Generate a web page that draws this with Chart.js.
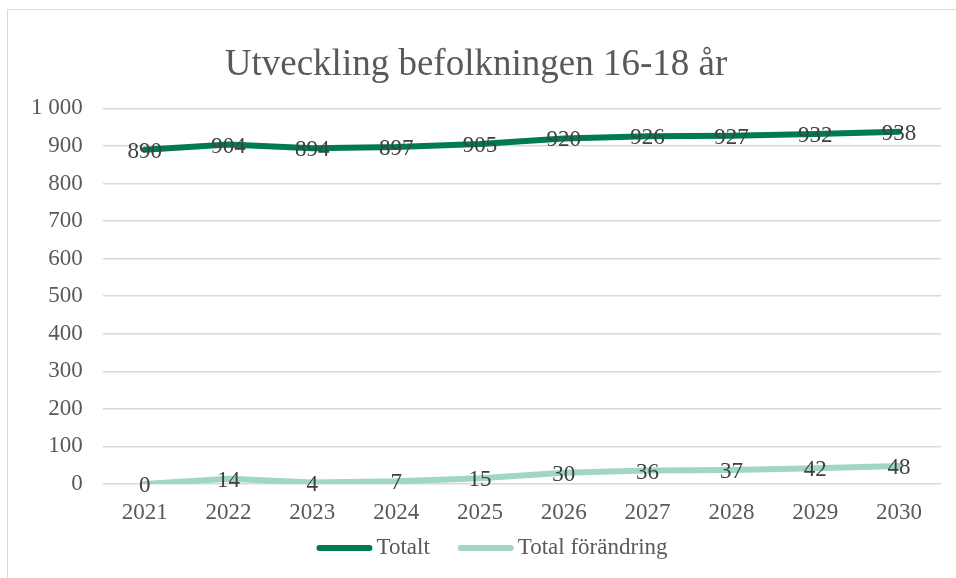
<!DOCTYPE html>
<html>
<head>
<meta charset="utf-8">
<script src="https://cdn.jsdelivr.net/npm/chart.js@4/dist/chart.umd.min.js"></script>
<style>
  html, body { margin: 0; padding: 0; background: #fff; }
  #wrap { position: relative; width: 956px; height: 578px; overflow: hidden; }
  #frame { position: absolute; left: 7px; top: 9px; width: 1000px; height: 1000px;
           border: 1.5px solid #d9d9d9; box-sizing: border-box; }
  canvas { position: absolute; left: 0; top: 0; }
</style>
</head>
<body>
<div id="wrap">
  <div id="frame"></div>
  <canvas id="chart" width="956" height="578"></canvas>
</div>
<script>
// ---- data ----
const years = ["2021", "2022", "2023", "2024", "2025", "2026", "2027", "2028", "2029", "2030"];
const totalt = [890, 904, 894, 897, 905, 920, 926, 927, 932, 938];
const forandring = [0, 14, 4, 7, 15, 30, 36, 37, 42, 48];

const serif = "'Liberation Serif', 'Times New Roman', serif";

// value labels centred on each point (like Excel "center" labels)
const pointLabels = {
    id: "pointLabels",
    afterDatasetsDraw: function (chart) {
        const ctx = chart.ctx;
        ctx.save();
        ctx.font = "23px " + serif;
        ctx.fillStyle = "#404040";
        ctx.textAlign = "center";
        ctx.textBaseline = "middle";
        chart.data.datasets.forEach(function (ds, i) {
            const meta = chart.getDatasetMeta(i);
            meta.data.forEach(function (pt, j) {
                ctx.fillText(String(ds.data[j]), pt.x, pt.y + 2);
            });
        });
        ctx.restore();
    }
};

// Excel-like legend under the axis: short line sample, small gap, text
const lineLegend = {
    id: "lineLegend",
    afterDraw: function (chart) {
        const ctx = chart.ctx;
        const sample = 56, gap = 4, between = 28, y = 548;
        ctx.save();
        ctx.font = "23px " + serif;
        const items = chart.data.datasets.map(function (ds) {
            return { ds: ds, w: sample + gap + ctx.measureText(ds.label).width };
        });
        let total = items.reduce(function (s, it) { return s + it.w; }, 0) + between * (items.length - 1);
        let x = 492 - total / 2;
        items.forEach(function (it) {
            ctx.strokeStyle = it.ds.borderColor;
            ctx.lineWidth = 6;
            ctx.lineCap = "round";
            ctx.beginPath();
            ctx.moveTo(x + 3, y);
            ctx.lineTo(x + sample - 3, y);
            ctx.stroke();
            ctx.fillStyle = "#595959";
            ctx.textAlign = "left";
            ctx.textBaseline = "middle";
            ctx.fillText(it.ds.label, x + sample + gap, y);
            x += it.w + between;
        });
        ctx.restore();
    }
};

new Chart(document.getElementById("chart"), {
    type: "line",
    data: {
        labels: years,
        datasets: [
            {
                label: "Totalt",
                data: totalt,
                borderColor: "#007a4f",
                backgroundColor: "#007a4f",
                borderWidth: 6,
                borderCapStyle: "round",
                borderJoinStyle: "round",
                pointRadius: 0,
                tension: 0
            },
            {
                label: "Total förändring",
                data: forandring,
                borderColor: "#9fd6c4",
                backgroundColor: "#9fd6c4",
                borderWidth: 6,
                borderCapStyle: "round",
                borderJoinStyle: "round",
                pointRadius: 0,
                tension: 0
            }
        ]
    },
    options: {
        responsive: false,
        animation: false,
        layout: { padding: { left: 11, right: 15, top: 22, bottom: 34 } },
        plugins: {
            title: {
                display: true,
                text: "Utveckling befolkningen 16-18 år",
                color: "#595959",
                font: { family: serif, size: 37, weight: "normal" },
                padding: { top: 21, bottom: 21 }
            },
            legend: { display: false },
            tooltip: { enabled: false }
        },
        scales: {
            x: {
                offset: true,
                grid: { display: false, drawTicks: false },
                border: { display: false },
                ticks: {
                    color: "#595959",
                    font: { family: serif, size: 23 },
                    padding: 15,
                    maxRotation: 0
                },
                afterFit: function (s) { s.height = 60; }
            },
            y: {
                min: 0,
                max: 1000,
                border: { display: false },
                grid: { color: "#d9d9d9", lineWidth: 1.5, drawTicks: false },
                ticks: {
                    stepSize: 100,
                    color: "#595959",
                    font: { family: serif, size: 23 },
                    padding: 20,
                    callback: function (v) {
                        return v >= 1000 ? "1 000" : String(v);
                    }
                }
            }
        }
    },
    plugins: [pointLabels, lineLegend]
});
</script>
</body>
</html>
